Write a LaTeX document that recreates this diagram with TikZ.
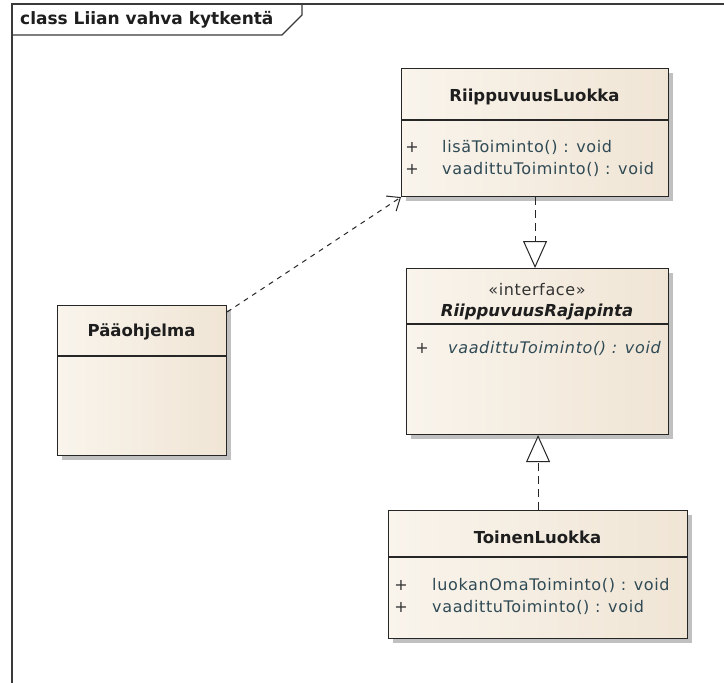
\documentclass[tikz,border=0pt]{standalone}
\usepackage{fontspec}
\usetikzlibrary{arrows.meta,shadows}
\newfontfamily\attrfont[LetterSpace=4]{DejaVu Sans}
\newfontfamily\namefont{DejaVu Sans}
\definecolor{framecol}{HTML}{3A3A3A}
\definecolor{boxleft}{HTML}{F9F4EC}
\definecolor{boxright}{HTML}{F0E5D5}
\definecolor{attrcol}{HTML}{2F4A55}
\definecolor{namecol}{HTML}{1E1E1E}
\tikzset{
  umlbox/.style={draw=black!85, line width=1.1pt, left color=boxleft, right color=boxright,
    anchor=north west, inner sep=0pt,
    drop shadow={shadow xshift=4pt, shadow yshift=-4pt, fill=black!35, opacity=0.7}},
  divider/.style={draw=black!85, line width=1.1pt},
  nametext/.style={text=namecol, inner sep=0pt, font=\namefont\bfseries\fontsize{16.5}{18}\selectfont},
  attrtext/.style={text=attrcol, anchor=west, inner sep=0pt, font=\attrfont\fontsize{16}{18}\selectfont},
  plustext/.style={text=black!80, inner sep=0pt, font=\attrfont\fontsize{16}{18}\selectfont},
  dep/.style={dash pattern=on 5pt off 5pt, line width=1pt, black!85,
    -{Straight Barb[length=11pt,width=18pt,line width=1pt]}},
  real/.style={dash pattern=on 8pt off 5pt, line width=1pt, black!85,
    -{Triangle[open,length=27pt,width=24pt,line width=1pt,fill=white]}}
}
\begin{document}
\begin{tikzpicture}[x=1pt,y=-1pt]
\useasboundingbox (0,0) rectangle (724,683);
\fill[white] (0,0) rectangle (724,683);

% diagram frame with its title tab
\draw[framecol, line width=1.4pt] (12,683) -- (12,4) -- (724,4);
\draw[framecol, line width=1.2pt] (12,35) -- (282,35) -- (302,15) -- (302,4);
\node[nametext, anchor=west, font=\namefont\bfseries\fontsize{17}{19}\selectfont] (title) at (20,20) {class Liian vahva kytkentä};

% RiippuvuusLuokka
\node[umlbox, minimum width=267pt, minimum height=128pt] (rl) at (401,68) {};
\draw[divider] (401,120) -- (668,120);
\node[nametext] (rlname) at (534.5,97) {RiippuvuusLuokka};
\node[plustext] (rlp1) at (412,147) {+};
\node[attrtext] (rla1) at (442,147) {lisäToiminto() : void};
\node[plustext] (rlp2) at (412,169) {+};
\node[attrtext] (rla2) at (442,169) {vaadittuToiminto() : void};

% RiippuvuusRajapinta
\node[umlbox, minimum width=262pt, minimum height=166pt] (ri) at (406,268) {};
\draw[divider] (406,324) -- (668,324);
\node[plustext] (rister) at (537,290) {«interface»};
\node[nametext, font=\namefont\bfseries\itshape\fontsize{16.5}{18}\selectfont] (riname) at (537,312) {RiippuvuusRajapinta};
\node[plustext] (rip1) at (422,348) {+};
\node[attrtext, font=\attrfont\itshape\fontsize{16}{18}\selectfont] (ria1) at (448,348) {vaadittuToiminto() : void};

% Paaohjelma
\node[umlbox, minimum width=169pt, minimum height=150pt] (pm) at (57,305) {};
\draw[divider] (57,356) -- (226,356);
\node[nametext] (pmname) at (141.5,332) {Pääohjelma};

% ToinenLuokka
\node[umlbox, minimum width=299pt, minimum height=128pt] (tl) at (388,510) {};
\draw[divider] (388,557) -- (687,557);
\node[nametext] (tlname) at (537.5,537) {ToinenLuokka};
\node[plustext] (tlp1) at (401,585) {+};
\node[attrtext] (tla1) at (432,585) {luokanOmaToiminto() : void};
\node[plustext] (tlp2) at (401,607) {+};
\node[attrtext] (tla2) at (432,607) {vaadittuToiminto() : void};

% dependency and realizations
\draw[dep] ([yshift=-7pt]pm.north east) -- (rl.south west);
\draw[real] (rl.south) -- (rl.south |- ri.north);
\draw[real] (tl.north) -- (tl.north |- ri.south);
\end{tikzpicture}
\end{document}
